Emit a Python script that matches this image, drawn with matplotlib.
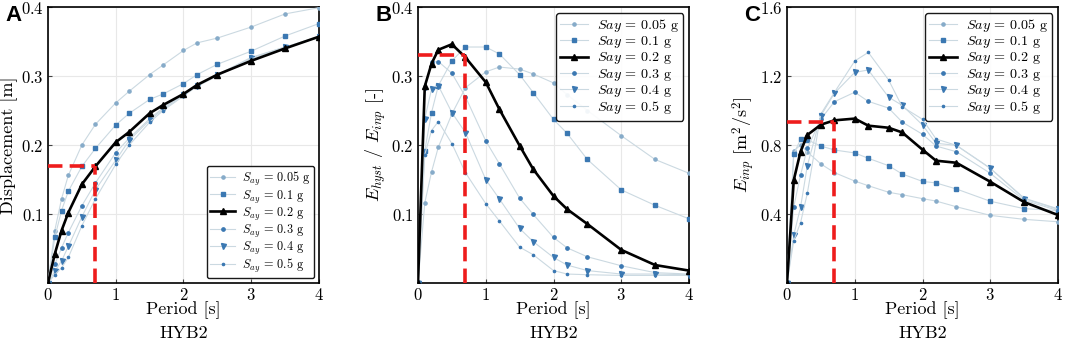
import matplotlib
matplotlib.use("Agg")
import matplotlib.pyplot as plt

plt.rcParams['font.family'] = 'serif'
plt.rcParams['font.serif'] = ['cmr10']
plt.rcParams['mathtext.fontset'] = 'cm'
plt.rcParams['axes.formatter.use_mathtext'] = True

periods = [0, 0.1, 0.2, 0.3, 0.5, 0.7, 1.0, 1.2, 1.5, 1.7, 2.0, 2.2, 2.5, 3.0, 3.5, 4.0]
say_labels = ["0.05", "0.1", "0.2", "0.3", "0.4", "0.5"]

# Panel A: displacement [m]
disp_005 = [0, 0.076, 0.122, 0.156, 0.200, 0.230, 0.261, 0.278, 0.302, 0.316, 0.337, 0.348, 0.355, 0.371, 0.390, 0.399]
disp_01 = [0, 0.066, 0.105, 0.133, 0.169, 0.195, 0.229, 0.246, 0.266, 0.274, 0.289, 0.302, 0.317, 0.336, 0.358, 0.376]
disp_02 = [0, 0.042, 0.076, 0.102, 0.143, 0.169, 0.204, 0.219, 0.246, 0.258, 0.274, 0.287, 0.302, 0.322, 0.340, 0.357]
disp_03 = [0, 0.027, 0.051, 0.073, 0.112, 0.145, 0.189, 0.210, 0.238, 0.254, 0.273, 0.287, 0.302, 0.327, 0.342, 0.357]
disp_04 = [0, 0.017, 0.032, 0.053, 0.096, 0.135, 0.178, 0.207, 0.236, 0.252, 0.272, 0.286, 0.301, 0.326, 0.342, 0.357]
disp_05 = [0, 0.012, 0.022, 0.037, 0.083, 0.122, 0.172, 0.200, 0.233, 0.250, 0.271, 0.285, 0.300, 0.325, 0.341, 0.356]

# Panel B: E_hyst / E_inp [-]
ratio_005 = [0, 0.116, 0.161, 0.197, 0.245, 0.283, 0.306, 0.313, 0.310, 0.303, 0.290, 0.273, 0.250, 0.2135, 0.179, 0.159]
ratio_01 = [0, 0.192, 0.247, 0.286, 0.322, 0.342, 0.342, 0.332, 0.302, 0.276, 0.237, 0.217, 0.179, 0.135, 0.1125, 0.093]
ratio_02 = [0, 0.285, 0.318, 0.338, 0.346, 0.327, 0.291, 0.252, 0.199, 0.165, 0.126, 0.107, 0.0855, 0.048, 0.026, 0.018]
ratio_03 = [0, 0.283, 0.320, 0.321, 0.304, 0.270, 0.206, 0.173, 0.123, 0.0995, 0.066, 0.051, 0.038, 0.025, 0.015, 0.013]
ratio_04 = [0, 0.238, 0.281, 0.286, 0.247, 0.218, 0.150, 0.122, 0.079, 0.060, 0.037, 0.026, 0.018, 0.013, 0.013, 0.012]
ratio_05 = [0, 0.186, 0.221, 0.234, 0.202, 0.160, 0.115, 0.090, 0.052, 0.041, 0.018, 0.013, 0.012, 0.011, 0.011, 0.011]

# Panel C: E_inp [m2/s2]
einp_005 = [0, 0.765, 0.800, 0.760, 0.690, 0.640, 0.591, 0.564, 0.526, 0.512, 0.489, 0.475, 0.442, 0.392, 0.369, 0.355]
einp_01 = [0, 0.748, 0.833, 0.830, 0.794, 0.771, 0.754, 0.723, 0.680, 0.632, 0.589, 0.580, 0.545, 0.474, 0.431, 0.420]
einp_02 = [0, 0.597, 0.762, 0.858, 0.918, 0.943, 0.953, 0.912, 0.900, 0.873, 0.773, 0.709, 0.697, 0.587, 0.469, 0.394]
einp_03 = [0, 0.442, 0.626, 0.780, 0.950, 1.051, 1.106, 1.053, 1.014, 0.933, 0.862, 0.794, 0.761, 0.636, 0.480, 0.420]
einp_04 = [0, 0.278, 0.439, 0.680, 0.970, 1.100, 1.221, 1.235, 1.077, 1.030, 0.916, 0.810, 0.798, 0.665, 0.489, 0.427]
einp_05 = [0, 0.245, 0.350, 0.520, 0.980, 1.105, 1.287, 1.337, 1.177, 1.022, 0.949, 0.835, 0.798, 0.665, 0.492, 0.430]

design_T = 0.7
design_A = 0.17
design_B = 0.33
design_C = 0.935

panels = [
    ("A", [disp_005, disp_01, disp_02, disp_03, disp_04, disp_05], "Displacement [m]",
     (0, 0.4), [0.1, 0.2, 0.3, 0.4], design_A, "lower right", r"$S_{ay}$", 8.8),
    ("B", [ratio_005, ratio_01, ratio_02, ratio_03, ratio_04, ratio_05],
     r"$E_{hyst}$ / $E_{inp}$ [-]", (0, 0.4), [0.1, 0.2, 0.3, 0.4], design_B, "upper right", r"$Say$", 10.2),
    ("C", [einp_005, einp_01, einp_02, einp_03, einp_04, einp_05],
     r"$E_{inp}$ [m$^2$/s$^2$]", (0, 1.6), [0.4, 0.8, 1.2, 1.6], design_C, "upper right", r"$Say$", 10.2),
]

light = '#cbd9e1'
blue = '#3b78b2'
styles = [
    dict(marker='o', ms=2.3, mfc='#86abc9', mec='#86abc9', color=light, lw=0.8),
    dict(marker='s', ms=2.6, mfc=blue, mec=blue, color=light, lw=0.8),
    dict(marker='^', ms=5.0, mfc='black', mec='black', color='black', lw=1.9),
    dict(marker='o', ms=2.4, mfc=blue, mec=blue, color=light, lw=0.8),
    dict(marker='v', ms=3.6, mfc=blue, mec=blue, color=light, lw=0.8),
    dict(marker='.', ms=3.2, mfc=blue, mec=blue, color=light, lw=0.8),
]

fig = plt.figure(figsize=(10.65, 3.41), dpi=100)
lefts = [48 / 1065, 418 / 1065, 787 / 1065]
width = 271 / 1065
bottom = (341 - 283) / 341
height = 276 / 341

for (letter, series, ylabel, ylim, yticks, dval, loc, sym, lfs), left in zip(panels, lefts):
    ax = fig.add_axes([left, bottom, width, height])
    ax.grid(True, color='#e8e8e8', lw=0.8, zorder=0)
    for vals, lab, st in zip(series, say_labels, styles):
        z = 5 if lab == "0.2" else 3
        ax.plot(periods, vals, label=sym + " = " + lab + " g", zorder=z, **st)
    ax.plot([0, design_T], [dval, dval], color='#ee1c1c', lw=2.6, ls=(0, (4, 2)), zorder=6)
    ax.plot([design_T, design_T], [0, dval], color='#ee1c1c', lw=2.6, ls=(0, (4, 2)), zorder=6)
    ax.set_xlim(0, 4)
    ax.set_ylim(*ylim)
    ax.set_xticks([0, 1, 2, 3, 4])
    ax.set_yticks(yticks)
    ax.tick_params(direction='in', labelsize=12, length=3, color='#444444', pad=3)
    for sp in ax.spines.values():
        sp.set_linewidth(1.2)
    ax.set_xlabel("Period [s]", fontsize=13, labelpad=-1)
    ax.set_ylabel(ylabel, fontsize=13, labelpad=2)
    fig.text(left + width / 2, (341 - 333) / 341, "HYB2", fontsize=13,
             ha='center', va='center')
    leg = ax.legend(loc=loc, fontsize=lfs, frameon=True, fancybox=True,
                    edgecolor='black', framealpha=0.9, handlelength=2.0,
                    borderpad=0.3, labelspacing=0.02, handletextpad=0.6,
                    borderaxespad=0.4)
    leg.get_frame().set_linewidth(1.0)
    leg.set_zorder(10)
    fig.text(left - 43 / 1065, 0.955, letter, fontsize=16, fontweight='bold',
             family='Liberation Sans', va='center', ha='left')

fig.savefig("out.png", dpi=100)
